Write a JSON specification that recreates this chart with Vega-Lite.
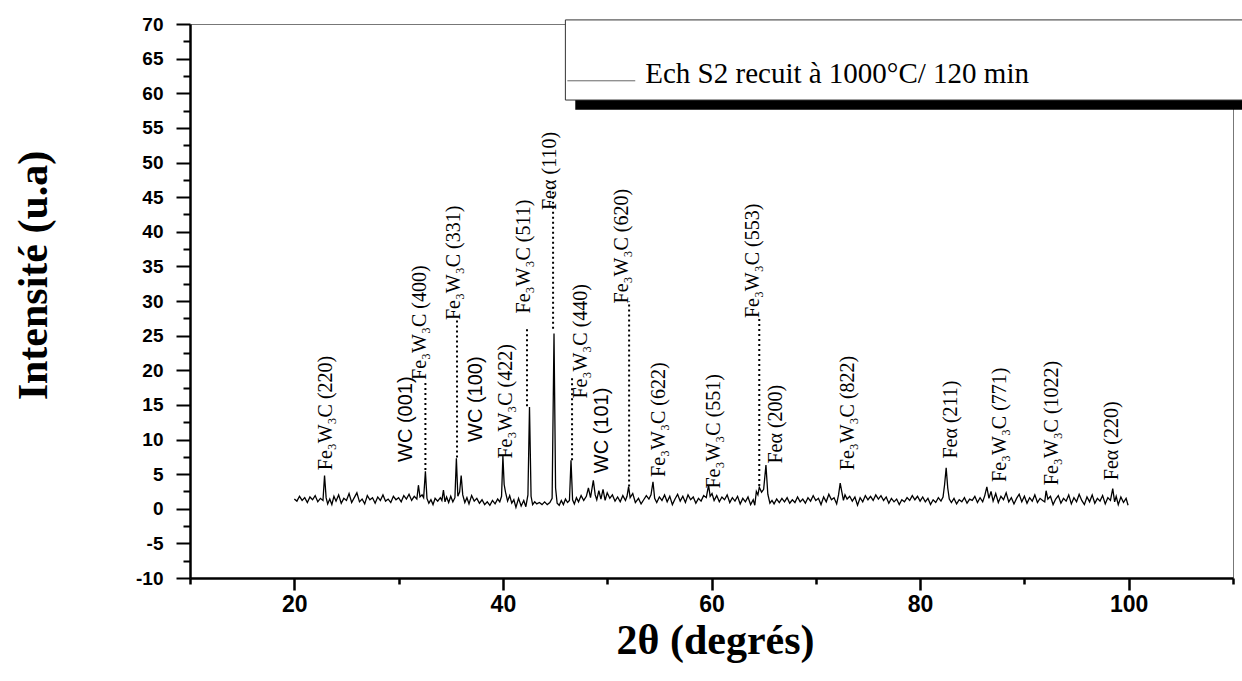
{
  "$schema": "https://vega.github.io/schema/vega-lite/v6.json",
  "width": 1043,
  "height": 554,
  "autosize": {"type": "none"},
  "padding": {"left": 190, "top": 24, "right": 9, "bottom": 103},
  "background": "white",
  "config": {
    "view": {"stroke": "#777777", "strokeWidth": 1},
    "axis": {"grid": false, "domainColor": "black", "tickColor": "black", "labelColor": "black", "titleColor": "black", "labelFlush": false, "labelOverlap": false}
  },
  "datasets": {
    "trace": [
      {"x":20.0,"y":1.4},{"x":20.25,"y":1.1},{"x":20.5,"y":1.8},{"x":20.75,"y":1.2},{"x":21.0,"y":1.6},{"x":21.25,"y":0.9},{"x":21.5,"y":1.7},{"x":21.75,"y":1.3},{"x":22.0,"y":1.9},{"x":22.25,"y":1.0},{"x":22.5,"y":1.5},{"x":22.75,"y":1.2},{"x":22.9,"y":4.8},{"x":23.05,"y":1.6},{"x":23.2,"y":0.7},{"x":23.4,"y":1.4},{"x":23.6,"y":0.6},{"x":23.8,"y":1.8},{"x":24.0,"y":1.1},{"x":24.25,"y":2.0},{"x":24.5,"y":0.8},{"x":24.75,"y":1.5},{"x":25.0,"y":1.2},{"x":25.25,"y":2.2},{"x":25.5,"y":0.9},{"x":25.75,"y":1.6},{"x":26.0,"y":2.3},{"x":26.25,"y":1.0},{"x":26.5,"y":1.4},{"x":26.75,"y":0.7},{"x":27.0,"y":1.9},{"x":27.25,"y":1.3},{"x":27.5,"y":1.6},{"x":27.75,"y":0.8},{"x":28.0,"y":1.7},{"x":28.25,"y":1.2},{"x":28.5,"y":2.0},{"x":28.75,"y":1.1},{"x":29.0,"y":1.4},{"x":29.25,"y":0.9},{"x":29.5,"y":1.8},{"x":29.75,"y":1.3},{"x":30.0,"y":1.6},{"x":30.25,"y":1.0},{"x":30.5,"y":1.9},{"x":30.75,"y":1.4},{"x":31.0,"y":2.1},{"x":31.25,"y":1.2},{"x":31.5,"y":1.8},{"x":31.75,"y":1.4},{"x":31.9,"y":3.4},{"x":32.05,"y":1.7},{"x":32.25,"y":2.0},{"x":32.4,"y":1.6},{"x":32.57,"y":5.4},{"x":32.72,"y":1.5},{"x":32.9,"y":0.8},{"x":33.1,"y":1.3},{"x":33.3,"y":0.6},{"x":33.5,"y":1.5},{"x":33.75,"y":1.1},{"x":34.0,"y":1.6},{"x":34.15,"y":1.2},{"x":34.3,"y":2.7},{"x":34.45,"y":1.0},{"x":34.6,"y":1.7},{"x":34.8,"y":0.9},{"x":35.0,"y":1.8},{"x":35.2,"y":1.0},{"x":35.4,"y":1.6},{"x":35.54,"y":7.3},{"x":35.68,"y":1.8},{"x":35.85,"y":2.4},{"x":36.0,"y":4.8},{"x":36.15,"y":2.0},{"x":36.35,"y":0.9},{"x":36.55,"y":1.6},{"x":36.75,"y":0.7},{"x":37.0,"y":1.9},{"x":37.25,"y":1.1},{"x":37.5,"y":1.5},{"x":37.75,"y":0.8},{"x":38.0,"y":1.3},{"x":38.25,"y":0.6},{"x":38.5,"y":1.0},{"x":38.75,"y":0.5},{"x":39.0,"y":1.2},{"x":39.25,"y":0.7},{"x":39.5,"y":1.4},{"x":39.7,"y":1.0},{"x":39.87,"y":1.8},{"x":40.0,"y":7.6},{"x":40.12,"y":3.5},{"x":40.25,"y":2.4},{"x":40.45,"y":1.1},{"x":40.65,"y":1.9},{"x":40.85,"y":0.8},{"x":41.05,"y":1.3},{"x":41.25,"y":0.2},{"x":41.5,"y":1.5},{"x":41.75,"y":0.4},{"x":42.0,"y":1.2},{"x":42.2,"y":0.3},{"x":42.4,"y":2.0},{"x":42.55,"y":14.7},{"x":42.7,"y":1.8},{"x":42.85,"y":0.6},{"x":43.05,"y":1.0},{"x":43.25,"y":0.7},{"x":43.5,"y":0.9},{"x":43.75,"y":0.6},{"x":44.0,"y":1.0},{"x":44.25,"y":0.6},{"x":44.5,"y":0.9},{"x":44.72,"y":1.5},{"x":44.9,"y":25.3},{"x":45.05,"y":3.0},{"x":45.2,"y":0.8},{"x":45.4,"y":0.5},{"x":45.6,"y":1.2},{"x":45.8,"y":0.6},{"x":46.0,"y":1.4},{"x":46.2,"y":0.9},{"x":46.38,"y":1.2},{"x":46.53,"y":7.0},{"x":46.68,"y":1.3},{"x":46.85,"y":0.7},{"x":47.05,"y":1.6},{"x":47.25,"y":1.0},{"x":47.5,"y":1.9},{"x":47.75,"y":1.2},{"x":48.0,"y":1.8},{"x":48.2,"y":3.0},{"x":48.4,"y":1.6},{"x":48.67,"y":4.1},{"x":48.85,"y":2.0},{"x":49.0,"y":1.3},{"x":49.2,"y":2.6},{"x":49.4,"y":1.4},{"x":49.6,"y":2.8},{"x":49.8,"y":1.2},{"x":50.0,"y":2.3},{"x":50.25,"y":1.5},{"x":50.5,"y":2.0},{"x":50.75,"y":1.1},{"x":51.0,"y":1.7},{"x":51.25,"y":1.0},{"x":51.5,"y":1.9},{"x":51.75,"y":1.2},{"x":51.9,"y":1.8},{"x":52.05,"y":3.2},{"x":52.2,"y":1.6},{"x":52.45,"y":2.2},{"x":52.7,"y":0.9},{"x":53.0,"y":1.5},{"x":53.25,"y":0.7},{"x":53.5,"y":1.3},{"x":53.75,"y":1.9},{"x":54.0,"y":1.4},{"x":54.2,"y":2.0},{"x":54.39,"y":3.9},{"x":54.55,"y":1.5},{"x":54.75,"y":0.9},{"x":55.0,"y":1.7},{"x":55.25,"y":1.2},{"x":55.5,"y":2.0},{"x":55.75,"y":1.0},{"x":56.0,"y":1.8},{"x":56.25,"y":0.6},{"x":56.5,"y":1.4},{"x":56.75,"y":2.1},{"x":57.0,"y":1.1},{"x":57.25,"y":1.8},{"x":57.5,"y":0.9},{"x":57.75,"y":2.0},{"x":58.0,"y":1.3},{"x":58.25,"y":1.7},{"x":58.5,"y":0.8},{"x":58.75,"y":1.5},{"x":59.0,"y":1.1},{"x":59.25,"y":1.9},{"x":59.5,"y":1.6},{"x":59.72,"y":3.4},{"x":59.87,"y":1.8},{"x":60.05,"y":2.2},{"x":60.25,"y":1.2},{"x":60.5,"y":1.9},{"x":60.75,"y":1.0},{"x":61.0,"y":1.7},{"x":61.25,"y":1.3},{"x":61.5,"y":2.0},{"x":61.75,"y":0.9},{"x":62.0,"y":1.6},{"x":62.25,"y":1.1},{"x":62.5,"y":1.8},{"x":62.75,"y":0.7},{"x":63.0,"y":1.5},{"x":63.25,"y":1.0},{"x":63.5,"y":1.7},{"x":63.75,"y":0.6},{"x":64.0,"y":1.3},{"x":64.15,"y":0.5},{"x":64.3,"y":2.5},{"x":64.45,"y":2.0},{"x":64.58,"y":3.1},{"x":64.8,"y":2.4},{"x":65.0,"y":2.8},{"x":65.22,"y":6.3},{"x":65.4,"y":2.1},{"x":65.6,"y":0.8},{"x":65.8,"y":1.2},{"x":66.0,"y":0.7},{"x":66.25,"y":1.4},{"x":66.5,"y":0.9},{"x":66.75,"y":1.5},{"x":67.0,"y":1.0},{"x":67.25,"y":1.6},{"x":67.5,"y":0.8},{"x":67.75,"y":1.3},{"x":68.0,"y":0.9},{"x":68.25,"y":1.7},{"x":68.5,"y":1.0},{"x":68.75,"y":1.4},{"x":69.0,"y":0.8},{"x":69.25,"y":1.6},{"x":69.5,"y":1.1},{"x":69.75,"y":1.9},{"x":70.0,"y":1.2},{"x":70.25,"y":1.5},{"x":70.5,"y":0.6},{"x":70.75,"y":1.7},{"x":71.0,"y":1.0},{"x":71.25,"y":2.1},{"x":71.5,"y":1.3},{"x":71.75,"y":1.6},{"x":72.0,"y":0.7},{"x":72.18,"y":2.0},{"x":72.34,"y":3.7},{"x":72.5,"y":2.4},{"x":72.65,"y":1.2},{"x":72.8,"y":2.0},{"x":73.0,"y":1.4},{"x":73.25,"y":1.8},{"x":73.5,"y":1.1},{"x":73.75,"y":1.7},{"x":74.0,"y":0.5},{"x":74.25,"y":1.6},{"x":74.5,"y":1.0},{"x":74.75,"y":1.9},{"x":75.0,"y":1.3},{"x":75.25,"y":1.8},{"x":75.5,"y":1.2},{"x":75.75,"y":2.0},{"x":76.0,"y":1.4},{"x":76.25,"y":1.9},{"x":76.5,"y":1.2},{"x":76.75,"y":1.7},{"x":77.0,"y":0.8},{"x":77.25,"y":1.5},{"x":77.5,"y":1.0},{"x":77.75,"y":1.4},{"x":78.0,"y":0.6},{"x":78.25,"y":1.3},{"x":78.5,"y":1.0},{"x":78.75,"y":1.6},{"x":79.0,"y":1.2},{"x":79.25,"y":1.9},{"x":79.5,"y":1.3},{"x":79.75,"y":1.8},{"x":80.0,"y":1.1},{"x":80.25,"y":1.7},{"x":80.5,"y":1.0},{"x":80.75,"y":1.5},{"x":81.0,"y":0.6},{"x":81.25,"y":1.3},{"x":81.5,"y":0.9},{"x":81.75,"y":1.6},{"x":82.0,"y":1.1},{"x":82.2,"y":1.7},{"x":82.35,"y":3.5},{"x":82.5,"y":5.9},{"x":82.65,"y":3.0},{"x":82.8,"y":1.4},{"x":83.0,"y":0.9},{"x":83.25,"y":1.5},{"x":83.5,"y":0.7},{"x":83.75,"y":1.3},{"x":84.0,"y":1.0},{"x":84.25,"y":1.6},{"x":84.5,"y":0.8},{"x":84.75,"y":1.4},{"x":85.0,"y":1.2},{"x":85.25,"y":1.8},{"x":85.5,"y":0.9},{"x":85.75,"y":1.6},{"x":86.0,"y":1.0},{"x":86.2,"y":1.9},{"x":86.4,"y":3.15},{"x":86.6,"y":1.5},{"x":86.8,"y":2.5},{"x":87.0,"y":1.1},{"x":87.25,"y":2.2},{"x":87.5,"y":0.9},{"x":87.75,"y":1.8},{"x":88.0,"y":1.3},{"x":88.25,"y":2.3},{"x":88.5,"y":1.0},{"x":88.75,"y":1.6},{"x":89.0,"y":0.7},{"x":89.25,"y":1.5},{"x":89.5,"y":2.1},{"x":89.75,"y":1.0},{"x":90.0,"y":1.8},{"x":90.25,"y":0.8},{"x":90.5,"y":1.6},{"x":90.75,"y":1.1},{"x":91.0,"y":2.0},{"x":91.25,"y":0.9},{"x":91.5,"y":1.5},{"x":91.75,"y":1.2},{"x":91.95,"y":1.0},{"x":92.08,"y":2.6},{"x":92.25,"y":1.4},{"x":92.5,"y":1.8},{"x":92.75,"y":0.6},{"x":93.0,"y":1.4},{"x":93.25,"y":1.9},{"x":93.5,"y":0.8},{"x":93.75,"y":1.5},{"x":94.0,"y":1.1},{"x":94.25,"y":2.0},{"x":94.5,"y":0.7},{"x":94.75,"y":1.6},{"x":95.0,"y":1.0},{"x":95.25,"y":2.1},{"x":95.5,"y":1.2},{"x":95.75,"y":0.6},{"x":96.0,"y":1.7},{"x":96.25,"y":1.0},{"x":96.5,"y":2.0},{"x":96.75,"y":0.8},{"x":97.0,"y":1.5},{"x":97.25,"y":1.1},{"x":97.5,"y":1.9},{"x":97.75,"y":0.7},{"x":98.0,"y":1.6},{"x":98.25,"y":1.2},{"x":98.47,"y":2.9},{"x":98.65,"y":1.0},{"x":98.8,"y":1.8},{"x":99.0,"y":0.6},{"x":99.25,"y":1.7},{"x":99.5,"y":0.9},{"x":99.75,"y":1.5},{"x":99.94,"y":0.5}
    ],
    "dots": [
      {"x":32.57,"y":5.6,"y2":18.6},
      {"x":35.6,"y":7.4,"y2":27.4},
      {"x":42.31,"y":14.8,"y2":26.1},
      {"x":44.81,"y":26.0,"y2":46.8},
      {"x":46.63,"y":7.0,"y2":19.0},
      {"x":52.1,"y":3.2,"y2":30.0},
      {"x":64.58,"y":3.3,"y2":27.6}
    ],
    "labels": [
      {"x":23.03,"y":5.56,"t":"Fe₃W₃C (220)","f":"serif"},
      {"x":32.09,"y":18.6,"t":"Fe₃W₃C (400)","f":"serif"},
      {"x":35.28,"y":27.24,"t":"Fe₃W₃C (331)","f":"serif"},
      {"x":40.3,"y":7.25,"t":"Fe₃W₃C (422)","f":"serif"},
      {"x":42.06,"y":28.21,"t":"Fe₃W₃C (511)","f":"serif"},
      {"x":44.55,"y":43.14,"t":"Feα (110)","f":"serif"},
      {"x":47.49,"y":15.92,"t":"Fe₃W₃C (440)","f":"serif"},
      {"x":51.42,"y":29.65,"t":"Fe₃W₃C (620)","f":"serif"},
      {"x":54.93,"y":4.6,"t":"Fe₃W₃C (622)","f":"serif"},
      {"x":60.26,"y":2.92,"t":"Fe₃W₃C (551)","f":"serif"},
      {"x":64.0,"y":27.53,"t":"Fe₃W₃C (553)","f":"serif"},
      {"x":66.18,"y":6.53,"t":"Feα (200)","f":"serif"},
      {"x":73.04,"y":5.56,"t":"Fe₃W₃C (822)","f":"serif"},
      {"x":82.95,"y":7.25,"t":"Feα (211)","f":"serif"},
      {"x":87.67,"y":3.87,"t":"Fe₃W₃C (771)","f":"serif"},
      {"x":92.63,"y":3.4,"t":"Fe₃W₃C (1022)","f":"serif"},
      {"x":98.43,"y":4.12,"t":"Feα (220)","f":"serif"},
      {"x":30.7,"y":6.76,"t":"WC (001)","f":"sans"},
      {"x":37.43,"y":9.65,"t":"WC (100)","f":"sans"},
      {"x":49.53,"y":5.13,"t":"WC (101)","f":"sans"}
    ],
    "shadow": [{"x":46.94,"x2":112.6,"y":57.6,"y2":59.02}],
    "frame": [{"x":45.99,"x2":112.6,"y":59.02,"y2":70.59}],
    "legline": [{"x":46.18,"x2":52.69,"y":61.8}],
    "legtext": [{"x":53.65,"y":61.5,"t":"Ech S2 recuit à 1000°C/ 120 min"}]
  },
  "encoding": {
    "x": {
      "field": "x", "type": "quantitative",
      "scale": {"domain": [10, 110], "nice": false, "zero": false},
      "axis": {
        "title": "2θ (degrés)",
        "values": [10, 20, 30, 40, 50, 60, 70, 80, 90, 100, 110],
        "labelExpr": "datum.value % 20 === 0 ? toString(datum.value) : ''",
        "labelFont": "Liberation Sans", "labelFontWeight": "bold", "labelFontSize": 23,
        "labelPadding": 3,
        "tickSize": {"condition": {"test": "datum.value % 20 !== 0", "value": 6}, "value": 12},
        "tickWidth": 2.5, "domainWidth": 2.5,
        "titleFont": "Liberation Serif", "titleFontSize": 42, "titleFontWeight": "bold",
        "titleBaseline": "alphabetic", "titleX": 525, "titleY": 75
      }
    },
    "y": {
      "field": "y", "type": "quantitative",
      "scale": {"domain": [-10, 70], "nice": false, "zero": false},
      "axis": {
        "title": "Intensité (u.a)",
        "values": [-10,-7.5,-5,-2.5,0,2.5,5,7.5,10,12.5,15,17.5,20,22.5,25,27.5,30,32.5,35,37.5,40,42.5,45,47.5,50,52.5,55,57.5,60,62.5,65,67.5,70],
        "labelExpr": "datum.value % 5 === 0 ? toString(datum.value) : ''",
        "labelFont": "Liberation Sans", "labelFontWeight": "bold", "labelFontSize": 19,
        "labelPadding": 13,
        "tickSize": {"condition": {"test": "datum.value % 5 !== 0", "value": 7}, "value": 14},
        "tickWidth": 2, "domainWidth": 2.5,
        "titleFont": "Liberation Serif", "titleFontSize": 42, "titleFontWeight": "bold",
        "titleAngle": 270, "titleAlign": "center", "titleBaseline": "bottom",
        "titleX": -135, "titleY": 251
      }
    }
  },
  "layer": [
    {
      "data": {"name": "trace"},
      "mark": {"type": "line", "color": "black", "strokeWidth": 1.3}
    },
    {
      "data": {"name": "dots"},
      "mark": {"type": "rule", "color": "black", "strokeWidth": 2, "strokeDash": [2, 3]},
      "encoding": {"y2": {"field": "y2"}}
    },
    {
      "data": {"name": "labels"},
      "transform": [{"filter": "datum.f === 'serif'"}],
      "mark": {"type": "text", "angle": 270, "align": "left", "baseline": "middle", "font": "Liberation Serif", "fontSize": 20, "color": "black"},
      "encoding": {"text": {"field": "t"}}
    },
    {
      "data": {"name": "labels"},
      "transform": [{"filter": "datum.f === 'sans'"}],
      "mark": {"type": "text", "angle": 270, "align": "left", "baseline": "middle", "font": "Liberation Sans", "fontSize": 20, "color": "black"},
      "encoding": {"text": {"field": "t"}}
    },
    {
      "data": {"name": "shadow"},
      "mark": {"type": "rect", "color": "black"},
      "encoding": {"x2": {"field": "x2"}, "y2": {"field": "y2"}}
    },
    {
      "data": {"name": "frame"},
      "mark": {"type": "rect", "fill": "white", "stroke": "#333333", "strokeWidth": 1},
      "encoding": {"x2": {"field": "x2"}, "y2": {"field": "y2"}}
    },
    {
      "data": {"name": "legline"},
      "mark": {"type": "rule", "color": "#666666", "strokeWidth": 1},
      "encoding": {"x2": {"field": "x2"}}
    },
    {
      "data": {"name": "legtext"},
      "mark": {"type": "text", "align": "left", "baseline": "alphabetic", "font": "Liberation Serif", "fontSize": 29, "color": "black"},
      "encoding": {"text": {"field": "t"}}
    }
  ]
}
